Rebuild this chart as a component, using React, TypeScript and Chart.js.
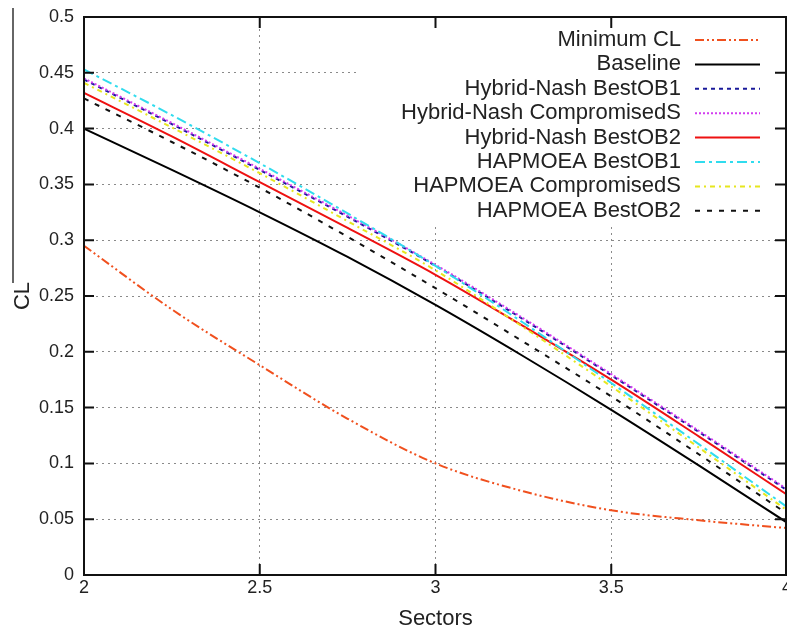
import React, { useEffect, useRef } from "react";
import { Chart, registerables } from "chart.js";

Chart.register(...registerables);

const sectors = [2, 2.25, 2.5, 2.75, 3, 3.25, 3.5, 3.75, 4];
const minimumCL = [0.295, 0.238, 0.188, 0.14, 0.1, 0.075, 0.058, 0.049, 0.042];
const baseline = [0.4, 0.363, 0.325, 0.285, 0.242, 0.196, 0.148, 0.098, 0.047];
const hybridBestOB1 = [0.444, 0.404, 0.363, 0.321, 0.277, 0.229, 0.179, 0.128, 0.076];
const hybridCompromised = [0.445, 0.405, 0.364, 0.322, 0.278, 0.23, 0.18, 0.129, 0.077];
const hybridBestOB2 = [0.432, 0.393, 0.352, 0.311, 0.269, 0.223, 0.175, 0.124, 0.072];
const hapBestOB1 = [0.453, 0.412, 0.369, 0.324, 0.277, 0.226, 0.172, 0.117, 0.061];
const hapCompromised = [0.441, 0.401, 0.36, 0.317, 0.273, 0.222, 0.169, 0.114, 0.058];
const hapBestOB2 = [0.427, 0.388, 0.347, 0.303, 0.257, 0.209, 0.16, 0.108, 0.055];

const seriesLabels = [
  "Minimum CL",
  "Baseline",
  "Hybrid-Nash BestOB1",
  "Hybrid-Nash CompromisedS",
  "Hybrid-Nash BestOB2",
  "HAPMOEA BestOB1",
  "HAPMOEA CompromisedS",
  "HAPMOEA BestOB2",
];
const seriesValues = [
  minimumCL,
  baseline,
  hybridBestOB1,
  hybridCompromised,
  hybridBestOB2,
  hapBestOB1,
  hapCompromised,
  hapBestOB2,
];
const seriesColors = [
  "#f0501e",
  "#000000",
  "#1a1a9a",
  "#d23ef0",
  "#ee1111",
  "#30dcee",
  "#e6e61e",
  "#111111",
];
const seriesDashes = [
  [9, 3, 2, 3, 2, 3],
  [],
  [4, 4],
  [2, 2],
  [],
  [10, 4, 3, 4],
  [5, 4, 2, 4],
  [5, 7],
];

const xTicks = [2, 2.5, 3, 3.5, 4];
const FONT = '"Liberation Sans", Arial, sans-serif';

const framePlugin = {
  id: "frame",
  beforeDatasetsDraw(chart: any) {
    const { ctx, chartArea } = chart;
    ctx.save();
    ctx.fillStyle = "#ffffff";
    ctx.fillRect(357, chartArea.top + 1, chartArea.right - 357, 208);
    ctx.restore();
  },
  afterDatasetsDraw(chart: any) {
    const { ctx, chartArea, scales } = chart;
    const { left, right, top, bottom } = chartArea;
    ctx.save();
    ctx.strokeStyle = "#111";
    ctx.lineWidth = 2;
    ctx.setLineDash([]);
    ctx.strokeRect(left, top, right - 1 - left, bottom - top);
    const xs = scales.x;
    xs.ticks.forEach((t: any) => {
      const px = xs.getPixelForValue(t.value);
      ctx.beginPath();
      ctx.moveTo(px, bottom);
      ctx.lineTo(px, bottom - 11);
      ctx.moveTo(px, top);
      ctx.lineTo(px, top + 11);
      ctx.stroke();
    });
    const ys = scales.y;
    ys.ticks.forEach((t: any) => {
      const py = ys.getPixelForValue(t.value);
      ctx.beginPath();
      ctx.moveTo(left, py);
      ctx.lineTo(left + 10, py);
      ctx.moveTo(right, py);
      ctx.lineTo(right - 12, py);
      ctx.stroke();
    });
    ctx.font = "22px " + FONT;
    ctx.textAlign = "right";
    ctx.textBaseline = "middle";
    const textRight = right - 106;
    const sampleL = right - 92;
    const sampleR = right - 27;
    seriesLabels.forEach((lab, i) => {
      const y = top + 23 + i * 24.4;
      ctx.fillStyle = "#222";
      ctx.fillText(lab, textRight, y);
      ctx.strokeStyle = seriesColors[i];
      ctx.lineWidth = 2;
      ctx.setLineDash(seriesDashes[i]);
      ctx.beginPath();
      ctx.moveTo(sampleL, y);
      ctx.lineTo(sampleR, y);
      ctx.stroke();
    });
    ctx.setLineDash([]);
    ctx.strokeStyle = "#333";
    ctx.lineWidth = 1.5;
    ctx.beginPath();
    ctx.moveTo(13, 8);
    ctx.lineTo(13, 283);
    ctx.stroke();
    ctx.restore();
  },
};

export default function App() {
  const ref = useRef<HTMLCanvasElement>(null);
  useEffect(() => {
    document.body.style.margin = "0";
    const datasets = seriesLabels.map((label, i) => ({
      label,
      data: sectors.map((s, k) => ({ x: s, y: seriesValues[i][k] })),
      borderColor: seriesColors[i],
      backgroundColor: seriesColors[i],
      borderDash: seriesDashes[i],
      borderWidth: 2,
      pointRadius: 0,
      cubicInterpolationMode: "monotone" as const,
      fill: false,
      order: seriesLabels.length - i,
    }));
    const chart = new Chart(ref.current as HTMLCanvasElement, {
      type: "line",
      data: { datasets },
      plugins: [framePlugin],
      options: {
        animation: false,
        responsive: false,
        devicePixelRatio: 1,
        layout: { autoPadding: false, padding: { top: 17, left: 0, right: 0, bottom: 0 } },
        plugins: { legend: { display: false }, tooltip: { enabled: false } },
        scales: {
          x: {
            type: "linear",
            min: 2,
            max: 4,
            afterBuildTicks: (s: any) => {
              s.ticks = xTicks.map((v) => ({ value: v }));
            },
            afterFit: (s: any) => {
              s.height = 58;
              s.paddingLeft = 0;
              s.paddingRight = 0;
            },
            ticks: {
              padding: 2,
              color: "#222",
              font: { family: FONT, size: 18 },
              maxRotation: 0,
              callback: (v: any) => String(Number(Number(v).toFixed(2))),
            },
            grid: { color: "#8a8a8a", lineWidth: 1, drawTicks: false },
            border: { display: false, dash: [2, 4] },
            title: {
              display: true,
              text: "Sectors",
              color: "#222",
              font: { family: FONT, size: 22 },
              padding: { top: 0, bottom: 1 },
            },
          },
          y: {
            type: "linear",
            min: 0,
            max: 0.5,
            afterFit: (s: any) => {
              s.width = 84;
              s.paddingTop = 0;
              s.paddingBottom = 0;
            },
            ticks: {
              stepSize: 0.05,
              padding: 10,
              color: "#222",
              font: { family: FONT, size: 18 },
              callback: (v: any) => String(Number(Number(v).toFixed(2))),
            },
            grid: { color: "#8a8a8a", lineWidth: 1, drawTicks: false },
            border: { display: false, dash: [2, 4] },
            title: {
              display: true,
              text: "CL",
              color: "#222",
              font: { family: FONT, size: 22 },
              padding: { top: 10, bottom: 0 },
            },
          },
        },
      },
    });
    return () => chart.destroy();
  }, []);
  return (
    <div style={{ width: 787, height: 633, overflow: "hidden", background: "#fff" }}>
      <canvas ref={ref} width={787} height={633} style={{ display: "block" }} />
    </div>
  );
}
